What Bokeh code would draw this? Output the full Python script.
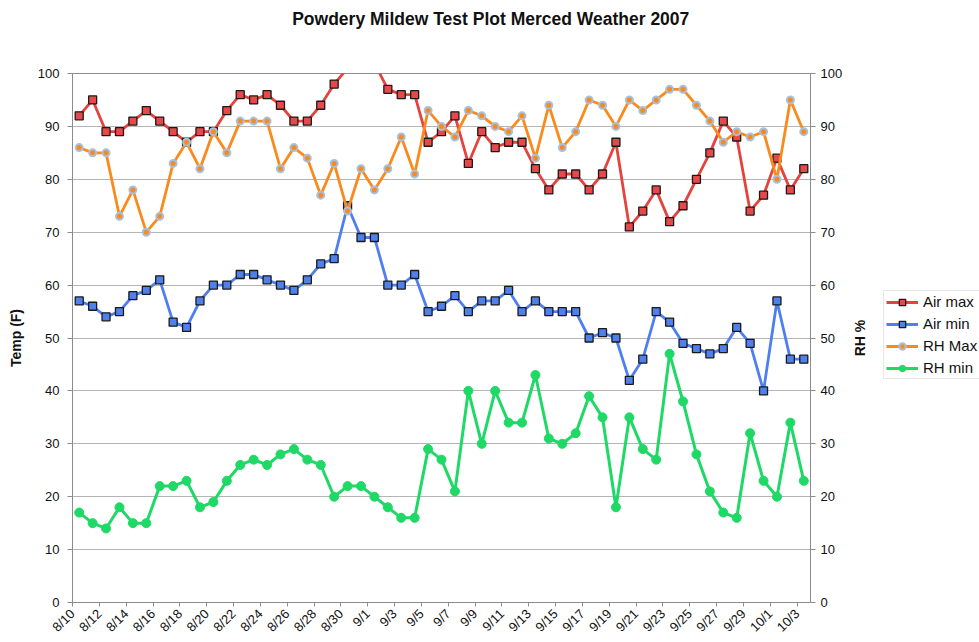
import math
from bokeh.plotting import figure
from bokeh.layouts import row
from bokeh.models import (Range1d, LinearAxis, FixedTicker, Legend, LegendItem, Title)
from bokeh.embed import file_html
from bokeh.resources import INLINE

title_text = "Powdery Mildew Test Plot Merced Weather 2007"

dates = ["8/10", "8/11", "8/12", "8/13", "8/14", "8/15", "8/16", "8/17", "8/18", "8/19",
         "8/20", "8/21", "8/22", "8/23", "8/24", "8/25", "8/26", "8/27", "8/28", "8/29",
         "8/30", "8/31", "9/1", "9/2", "9/3", "9/4", "9/5", "9/6", "9/7", "9/8",
         "9/9", "9/10", "9/11", "9/12", "9/13", "9/14", "9/15", "9/16", "9/17", "9/18",
         "9/19", "9/20", "9/21", "9/22", "9/23", "9/24", "9/25", "9/26", "9/27", "9/28",
         "9/29", "9/30", "10/1", "10/2", "10/3"]

air_max = [92, 95, 89, 89, 91, 93, 91, 89, 87, 89,
           89, 93, 96, 95, 96, 94, 91, 91, 94, 98,
           101, 104, 102, 97, 96, 96, 87, 89, 92, 83,
           89, 86, 87, 87, 82, 78, 81, 81, 78, 81,
           87, 71, 74, 78, 72, 75, 80, 85, 91, 88,
           74, 77, 84, 78, 82]

air_min = [57, 56, 54, 55, 58, 59, 61, 53, 52, 57,
           60, 60, 62, 62, 61, 60, 59, 61, 64, 65,
           75, 69, 69, 60, 60, 62, 55, 56, 58, 55,
           57, 57, 59, 55, 57, 55, 55, 55, 50, 51,
           50, 42, 46, 55, 53, 49, 48, 47, 48, 52,
           49, 40, 57, 46, 46]

rh_max = [86, 85, 85, 73, 78, 70, 73, 83, 87, 82,
          89, 85, 91, 91, 91, 82, 86, 84, 77, 83,
          74, 82, 78, 82, 88, 81, 93, 90, 88, 93,
          92, 90, 89, 92, 84, 94, 86, 89, 95, 94,
          90, 95, 93, 95, 97, 97, 94, 91, 87, 89,
          88, 89, 80, 95, 89]

rh_min = [17, 15, 14, 18, 15, 15, 22, 22, 23, 18,
          19, 23, 26, 27, 26, 28, 29, 27, 26, 20,
          22, 22, 20, 18, 16, 16, 29, 27, 21, 40,
          30, 40, 34, 34, 43, 31, 30, 32, 39, 35,
          18, 35, 29, 27, 47, 38, 28, 21, 17, 16,
          32, 23, 20, 34, 23]

series_names = ["Air max", "Air min", "RH Max", "RH min"]
y_ticks = list(range(0, 101, 10))

FONT = "Liberation Sans"
AXIS_GRAY = "#8c8c8c"
RED, RED_F = "#e4433e", "#e8484a"
BLUE, BLUE_F = "#4d7ff0", "#4f80ec"
ORANGE = "#fb8a1c"
HALO = "#a6c0de"
GREEN = "#1fd966"

idx = list(range(len(dates)))

p = figure(width=845, height=642, output_backend="svg", toolbar_location=None,
           x_range=Range1d(-0.5, len(dates) - 0.5), y_range=Range1d(0, 100),
           min_border_left=72, min_border_right=35, min_border_top=73,
           min_border_bottom=39)
p.extra_y_ranges = {"rh": Range1d(0, 100)}
p.background_fill_color = "white"
p.border_fill_color = "white"
p.outline_line_color = AXIS_GRAY
p.xgrid.visible = False
p.ygrid.grid_line_color = "#b5b5b5"
p.ygrid.grid_line_width = 1

# spacer between title and plot area (keeps the title near the top edge)
p.add_layout(Title(text=" ", text_font_size="1px", standoff=37), "above")
p.title.text = title_text
p.title.align = "left"
p.title.offset = 219.7
p.title.text_font = FONT
p.title.text_font_style = "bold"
p.title.text_font_size = "17.5px"
p.title.text_color = "#111111"

# x axis: labels every second day, ticks on category boundaries
even = [i for i in idx if i % 2 == 0]
xa = p.xaxis[0]
xa.ticker = FixedTicker(ticks=[i - 0.5 for i in even])
xa.major_label_overrides = {i - 0.5: dates[i] for i in even}
xa.major_label_orientation = math.pi / 4
xa.major_label_text_font_size = "13px"
xa.major_label_standoff = 5
xa.major_tick_out = 4

ya = p.yaxis[0]
ya.ticker = FixedTicker(ticks=y_ticks)
ya.axis_label = "Temp (F)"
ya.axis_label_standoff = 11

ra = LinearAxis(y_range_name="rh", ticker=FixedTicker(ticks=y_ticks))
p.add_layout(ra, "right")

for ax in (xa, ya, ra):
    ax.axis_line_color = AXIS_GRAY
    ax.major_tick_line_color = AXIS_GRAY
    ax.minor_tick_line_color = None
    ax.major_tick_in = 0
    ax.major_label_text_font = FONT
    ax.major_label_text_color = "#111111"
    ax.axis_label_text_font = FONT
    ax.axis_label_text_font_style = "bold"
    ax.axis_label_text_font_size = "14px"
    ax.axis_label_text_color = "#111111"
ya.major_tick_out = 5
ya.major_label_standoff = 8
ya.major_label_text_font_size = "13px"
ra.major_tick_out = 5
ra.major_label_standoff = 5
ra.major_label_text_font_size = "13px"


def draw(fig, visible=True):
    r1l = fig.line(idx, air_max, line_color=RED, line_width=2.8, visible=visible)
    r1s = fig.scatter(idx, air_max, marker="square", size=8, fill_color=RED_F,
                      line_color="#1a1a1a", line_width=1.3, visible=visible)
    r2l = fig.line(idx, air_min, line_color=BLUE, line_width=2.8, visible=visible)
    r2s = fig.scatter(idx, air_min, marker="square", size=8, fill_color=BLUE_F,
                      line_color="#1a1a1a", line_width=1.3, visible=visible)
    kw = {"y_range_name": "rh"} if visible else {}
    r3l = fig.line(idx, rh_max, line_color=ORANGE, line_width=2.8, visible=visible, **kw)
    r3s = fig.scatter(idx, rh_max, marker="circle", size=7, fill_color=ORANGE,
                      line_color=HALO, line_width=2, visible=visible, **kw)
    r4l = fig.line(idx, rh_min, line_color=GREEN, line_width=3, visible=visible, **kw)
    r4s = fig.scatter(idx, rh_min, marker="circle", size=9, fill_color=GREEN,
                      line_color=GREEN, line_width=1, visible=visible, **kw)
    return [[r1l, r1s], [r2l, r2s], [r3l, r3s], [r4l, r4s]]


draw(p)

# right-hand panel: "RH %" axis title and the legend
q = figure(width=134, height=642, output_backend="svg", toolbar_location=None,
           x_axis_type=None, min_border=0, min_border_left=22)
q.outline_line_color = None
q.background_fill_color = "white"
q.border_fill_color = "white"
q.grid.visible = False
qa = q.yaxis[0]
qa.ticker = FixedTicker(ticks=[])
qa.axis_line_color = None
qa.major_tick_line_color = None
qa.minor_tick_line_color = None
qa.axis_label = "RH %"
qa.axis_label_standoff = 0
qa.axis_label_text_font = FONT
qa.axis_label_text_font_style = "bold"
qa.axis_label_text_font_size = "14px"
qa.axis_label_text_color = "#111111"
legend_renderers = draw(q, visible=False)

legend = Legend(items=[LegendItem(label=n, renderers=r)
                       for n, r in zip(series_names, legend_renderers)],
                location=(16, 223), margin=0, padding=2, spacing=5,
                glyph_width=32, glyph_height=16, label_height=16, label_standoff=5,
                label_text_font=FONT, label_text_font_size="15px",
                label_text_color="#111111", border_line_color="#d0d0d0",
                background_fill_color="white", background_fill_alpha=1)
q.add_layout(legend)

layout = row(p, q, spacing=0)
open("out.html", "w").write(file_html(layout, INLINE))
